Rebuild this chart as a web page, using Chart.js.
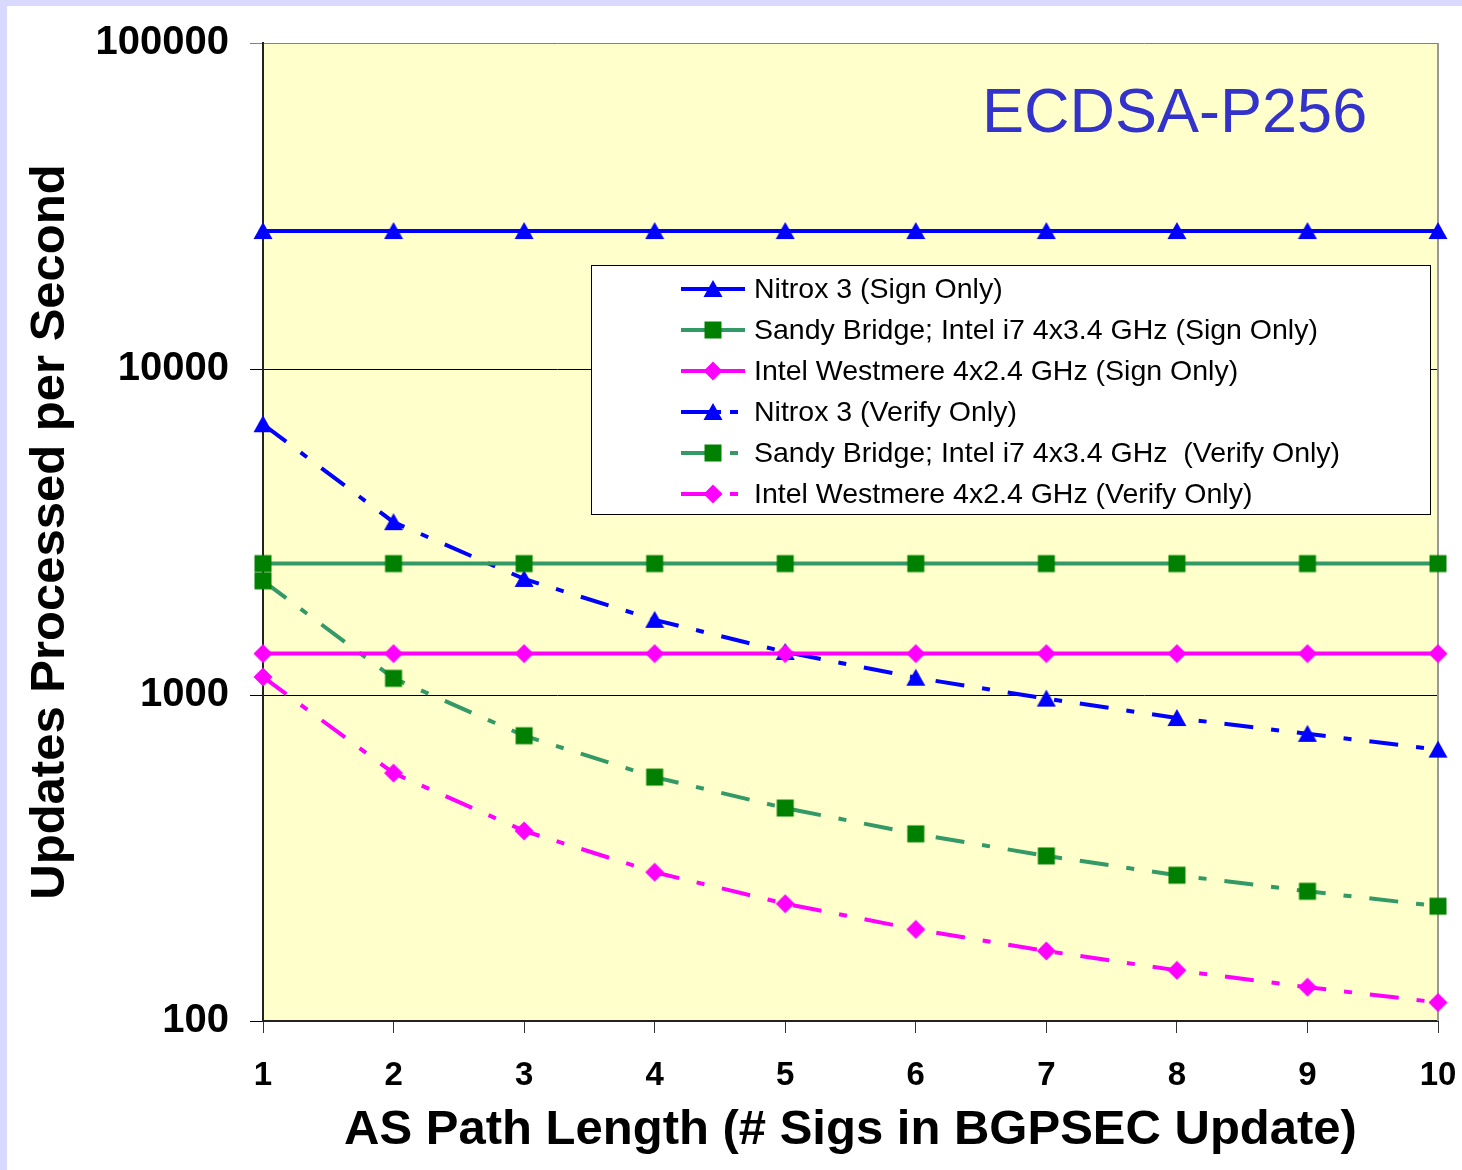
<!DOCTYPE html>
<html lang="en">
<head>
<meta charset="UTF-8">
<title>ECDSA-P256</title>
<script src="https://cdn.jsdelivr.net/npm/chart.js"></script>
<style>
    body { margin: 0; background: #fff; }
    .janela { width: 1462px; height: 1170px; position: relative; }
</style>
</head>
<body>
<div class="janela">
    <canvas id="myChart"></canvas>
</div>
<script>
    // dados
    const xLabels = ['1', '2', '3', '4', '5', '6', '7', '8', '9', '10'];
    const yTicks = [100, 1000, 10000, 100000];

    const nitroxSign = [26500, 26500, 26500, 26500, 26500, 26500, 26500, 26500, 26500, 26500];
    const sandySign = [2530, 2530, 2530, 2530, 2530, 2530, 2530, 2530, 2530, 2530];
    const westSign = [1340, 1340, 1340, 1340, 1340, 1340, 1340, 1340, 1340, 1340];
    const nitroxVerify = [6770, 3390, 2270, 1700, 1355, 1130, 975, 850, 760, 680];
    const sandyVerify = [2240, 1125, 750, 560, 450, 375, 321, 280, 250, 225];
    const westVerify = [1136, 576, 383, 286, 229, 191, 164, 143, 127, 114];

    const seriesNames = [
        'Nitrox 3 (Sign Only)',
        'Sandy Bridge; Intel i7 4x3.4 GHz (Sign Only)',
        'Intel Westmere 4x2.4 GHz (Sign Only)',
        'Nitrox 3 (Verify Only)',
        'Sandy Bridge; Intel i7 4x3.4 GHz  (Verify Only)',
        'Intel Westmere 4x2.4 GHz (Verify Only)'
    ];

    const fonte = "'Liberation Sans', Arial, sans-serif";
    const dashVerify = [29, 18, 8, 18];

    function makeMarker(shape, color) {
        var c = document.createElement('canvas');
        c.width = 20; c.height = 20;
        var g = c.getContext('2d');
        g.fillStyle = color;
        g.beginPath();
        if (shape == 'tri') {
            g.moveTo(10, 1); g.lineTo(19.5, 18); g.lineTo(0.5, 18);
        } else if (shape == 'sq') {
            g.rect(1.5, 1.5, 17, 17);
        } else {
            g.moveTo(10, 0.5); g.lineTo(19.5, 10); g.lineTo(10, 19.5); g.lineTo(0.5, 10);
        }
        g.closePath();
        g.fill();
        return c;
    }

    var triAzul = makeMarker('tri', '#0000FF');
    var sqVerde = makeMarker('sq', '#008000');
    var diaRosa = makeMarker('dia', '#FF00FF');

    function serie(label, dados, cor, marker, dash) {
        return {
            label: label,
            data: dados,
            borderColor: cor,
            backgroundColor: cor,
            borderWidth: 4,
            borderDash: dash,
            tension: 0,
            pointStyle: marker,
            pointRadius: 9,
            pointHoverRadius: 9,
            clip: false
        };
    }

    // fundo, area amarela e borda direita
    const fundoPlugin = {
        id: 'fundo',
        beforeDraw(chart) {
            const ctx = chart.ctx;
            const a = chart.chartArea;
            ctx.save();
            ctx.fillStyle = '#D9D9FF';
            ctx.fillRect(0, 0, chart.width, chart.height);
            ctx.fillStyle = '#ffffff';
            ctx.fillRect(7, 6, chart.width - 7, chart.height - 6);
            ctx.fillStyle = '#FFFFCC';
            ctx.fillRect(a.left, a.top, a.right - a.left, a.bottom - a.top);
            ctx.restore();
        },
        beforeDatasetsDraw(chart) {
            const ctx = chart.ctx;
            const a = chart.chartArea;
            ctx.save();
            ctx.strokeStyle = '#999999';
            ctx.lineWidth = 2;
            ctx.beginPath();
            ctx.moveTo(a.right, a.top);
            ctx.lineTo(a.right, a.bottom);
            ctx.stroke();
            ctx.restore();
        }
    };

    // titulo e legenda dentro do grafico
    const legendaPlugin = {
        id: 'legenda',
        afterDraw(chart) {
            const ctx = chart.ctx;
            ctx.save();
            ctx.font = '63px ' + fonte;
            ctx.fillStyle = '#3333CC';
            ctx.textBaseline = 'alphabetic';
            ctx.textAlign = 'left';
            ctx.fillText('ECDSA-P256', 982, 132);

            ctx.fillStyle = '#ffffff';
            ctx.fillRect(591, 265, 839, 249);
            ctx.strokeStyle = '#000000';
            ctx.lineWidth = 1;
            ctx.strokeRect(591.5, 265.5, 839, 249);

            chart.data.datasets.forEach(function (ds, i) {
                var y = 289 + i * 41;
                ctx.strokeStyle = ds.borderColor;
                ctx.lineWidth = 4;
                ctx.setLineDash([]);
                ctx.beginPath();
                if (ds.borderDash && ds.borderDash.length) {
                    ctx.moveTo(681, y); ctx.lineTo(721, y);
                    ctx.moveTo(730, y); ctx.lineTo(738, y);
                } else {
                    ctx.moveTo(681, y); ctx.lineTo(745, y);
                }
                ctx.stroke();
                var m = ds.pointStyle;
                ctx.drawImage(m, 713 - m.width / 2, y - m.height / 2);

                ctx.fillStyle = '#000000';
                ctx.font = '28.5px ' + fonte;
                ctx.textBaseline = 'middle';
                ctx.fillText(ds.label, 754, y + 1);
            });
            ctx.restore();
        }
    };

    const data = {
        labels: xLabels,
        datasets: [
            serie(seriesNames[0], nitroxSign, '#0000FF', triAzul, []),
            serie(seriesNames[1], sandySign, '#339966', sqVerde, []),
            serie(seriesNames[2], westSign, '#FF00FF', diaRosa, []),
            serie(seriesNames[3], nitroxVerify, '#0000FF', triAzul, dashVerify),
            serie(seriesNames[4], sandyVerify, '#339966', sqVerde, dashVerify),
            serie(seriesNames[5], westVerify, '#FF00FF', diaRosa, dashVerify)
        ]
    };

    const config = {
        type: 'line',
        data: data,
        plugins: [fundoPlugin, legendaPlugin],
        options: {
            responsive: true,
            maintainAspectRatio: false,
            animation: false,
            layout: { padding: { top: 43, right: 24, left: 0, bottom: 0 } },
            plugins: {
                legend: { display: false },
                tooltip: { enabled: false }
            },
            scales: {
                x: {
                    type: 'category',
                    offset: false,
                    afterFit: function (scale) {
                        scale.height = 149;
                        scale.paddingLeft = 0;
                        scale.paddingRight = 0;
                    },
                    grid: { drawOnChartArea: false, tickLength: 12, color: '#333333', lineWidth: 1 },
                    border: { color: '#222222', width: 2 },
                    ticks: {
                        color: '#000',
                        padding: 23,
                        maxRotation: 0,
                        font: { family: fonte, size: 33, weight: 'bold' }
                    },
                    title: {
                        display: true,
                        text: 'AS Path Length (# Sigs in BGPSEC Update)',
                        color: '#000',
                        padding: { top: 0, bottom: 10 },
                        font: { family: fonte, size: 49, weight: 'bold' }
                    }
                },
                y: {
                    type: 'logarithmic',
                    min: 100,
                    max: 100000,
                    afterFit: function (scale) {
                        scale.width = 263;
                        scale.paddingTop = 0;
                        scale.paddingBottom = 0;
                    },
                    afterBuildTicks: function (scale) {
                        scale.ticks = yTicks.map(v => ({ value: v }));
                    },
                    grid: {
                        color: c => (c.tick && c.tick.value === 100000) ? '#808080' : '#000000',
                        lineWidth: 1,
                        tickLength: 13
                    },
                    border: { color: '#222222', width: 2 },
                    ticks: {
                        color: '#000',
                        padding: 21,
                        callback: v => String(v),
                        font: { family: fonte, size: 40, weight: 'bold' }
                    },
                    title: {
                        display: true,
                        text: 'Updates Processed per Second',
                        color: '#000',
                        padding: { top: 21, bottom: 0 },
                        font: { family: fonte, size: 49, weight: 'bold' }
                    }
                }
            }
        }
    };

    const myChart = new Chart(document.getElementById('myChart'), config);
</script>
</body>
</html>
